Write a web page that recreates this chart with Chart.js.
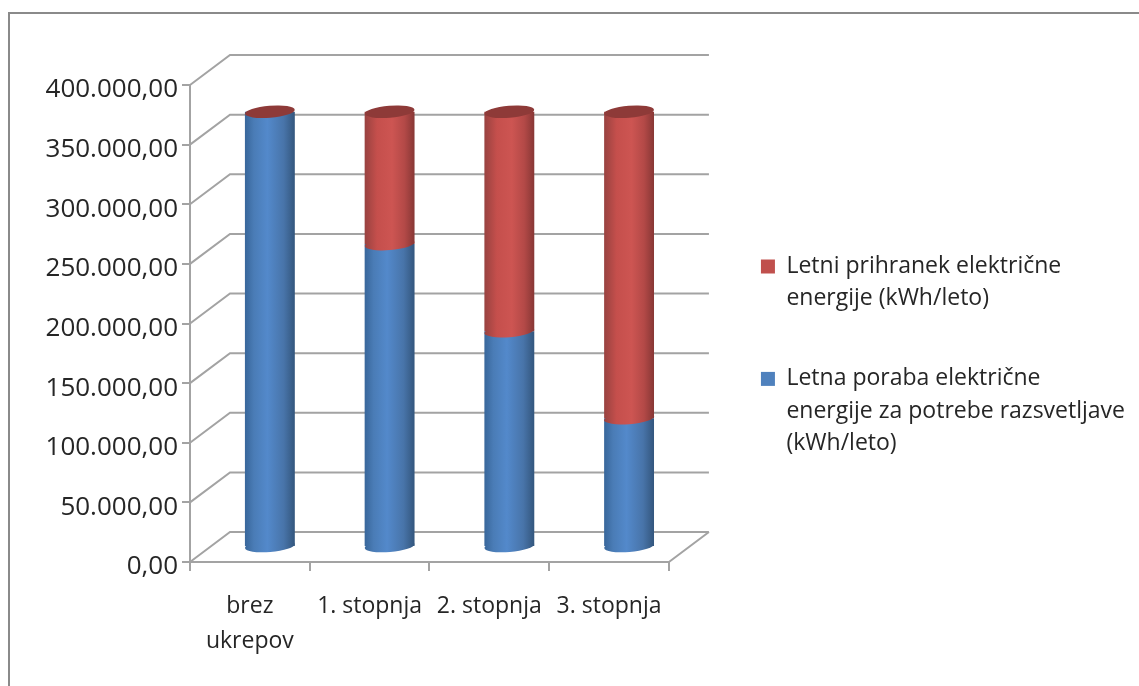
<!DOCTYPE html>
<html>
<head>
<meta charset="utf-8">
<title>Letna poraba</title>
<script src="https://cdn.jsdelivr.net/npm/chart.js@4"></script>
<style>
  body { margin: 0; background: #fff; }
  canvas { display: block; }
</style>
</head>
<body>
<canvas id="myChart" width="1139" height="686"></canvas>
<script>
// data
const categories = [['brez', 'ukrepov'], '1. stopnja', '2. stopnja', '3. stopnja'];
const porabaValues = [365000, 254000, 181000, 108000];
const prihranekValues = [0, 111000, 184000, 257000];
const yTickLabels = ['0,00', '50.000,00', '100.000,00', '150.000,00', '200.000,00',
  '250.000,00', '300.000,00', '350.000,00', '400.000,00'];
const porabaLabel = ['Letna poraba električne', 'energije za potrebe razsvetljave', '(kWh/leto)'];
const prihranekLabel = ['Letni prihranek električne', 'energije (kWh/leto)'];

const FONT = '"Open Sans"';
const TEXT = '#262626';
const GRID = '#a3a3a3';
const BLUE = '#4f81bd', RED = '#c0504d';
// the fake 3D: back wall offset, bars stand half way into the depth
const depthX = 40, depthY = 30;
const ellipseY = 6, tilt = -0.08;

const blueStops = [[0, '#38669a'], [0.18, '#4a7cb6'], [0.45, '#5389cb'], [0.78, '#4874a9'], [1, '#33567d']];
const redStops = [[0, '#984240'], [0.25, '#c54f4c'], [0.55, '#cd5552'], [0.8, '#b34947'], [1, '#873735']];

function barGradient(ctx, x, width, stops) {
  const g = ctx.createLinearGradient(x - width / 2, 0, x + width / 2, 0);
  stops.forEach(s => g.addColorStop(s[0], s[1]));
  return g;
}

function barFill(stops) {
  return function (c) {
    const x = c.chart.scales.x.getPixelForTick(c.dataIndex);
    return barGradient(c.chart.ctx, x, 50, stops);
  };
}

function ellipse(ctx, x, y, rx, fill) {
  ctx.beginPath();
  ctx.ellipse(x, y, rx, ellipseY, tilt, 0, Math.PI * 2);
  ctx.fillStyle = fill;
  ctx.fill();
}

const wall3d = {
  id: 'wall3d',
  beforeDraw(chart) {
    // frame round the chart, cut off at the right and the bottom
    const ctx = chart.ctx;
    ctx.save();
    ctx.strokeStyle = '#8a8a8a';
    ctx.lineWidth = 2;
    ctx.beginPath();
    ctx.moveTo(9, 686);
    ctx.lineTo(9, 13);
    ctx.lineTo(1139, 13);
    ctx.stroke();
    ctx.restore();
  },
  beforeDatasetsDraw(chart) {
    const ctx = chart.ctx, x = chart.scales.x, y = chart.scales.y;
    ctx.save();
    ctx.strokeStyle = GRID;
    ctx.lineWidth = 2;
    y.ticks.forEach((t, i) => {
      const py = y.getPixelForTick(i);
      ctx.beginPath();
      ctx.moveTo(x.left, py);
      ctx.lineTo(x.left + depthX, py - depthY);
      ctx.lineTo(x.right + depthX, py - depthY);
      if (i === 0) {
        ctx.moveTo(x.right, py);
        ctx.lineTo(x.right + depthX, py - depthY);
      }
      ctx.stroke();
    });
    ctx.restore();
    // bars are shifted into the depth
    ctx.save();
    ctx.translate(depthX / 2, -depthY / 2);
  },
  afterDatasetsDraw(chart) {
    const ctx = chart.ctx;
    const blue = chart.getDatasetMeta(0).data;
    const red = chart.getDatasetMeta(1).data;
    blue.forEach((bar, i) => {
      ellipse(ctx, bar.x, bar.base, bar.width / 2, barGradient(ctx, bar.x, bar.width, blueStops));
      if (prihranekValues[i] > 0) {
        ellipse(ctx, bar.x, bar.y, bar.width / 2, barGradient(ctx, bar.x, bar.width, redStops));
      }
      ellipse(ctx, bar.x, red[i].y, bar.width / 2, '#8e3a38');
    });
    ctx.restore();
  }
};

const myChart = new Chart(document.getElementById('myChart'), {
  type: 'bar',
  data: {
    labels: categories,
    datasets: [
      {
        label: porabaLabel,
        data: porabaValues,
        backgroundColor: barFill(blueStops),
        borderWidth: 0
      },
      {
        label: prihranekLabel,
        data: prihranekValues,
        backgroundColor: barFill(redStops),
        borderWidth: 0
      }
    ]
  },
  plugins: [wall3d],
  options: {
    responsive: false,
    animation: false,
    barPercentage: 0.4167,
    categoryPercentage: 1,
    layout: { padding: { top: 33, right: 4, bottom: 0 } },
    scales: {
      x: {
        stacked: true,
        afterFit(s) { s.height = 124; },
        grid: { drawOnChartArea: false, color: GRID, lineWidth: 2, tickLength: 9, offset: true },
        border: { color: GRID, width: 2 },
        ticks: {
          color: TEXT,
          padding: 18,
          maxRotation: 0,
          autoSkip: false,
          font: { family: FONT, size: 23, lineHeight: 1.52 }
        }
      },
      y: {
        stacked: true,
        min: 0,
        max: 400000,
        afterFit(s) { s.width = 190; },
        grid: { drawOnChartArea: false, color: GRID, lineWidth: 2, tickLength: 8 },
        border: { color: GRID, width: 2 },
        ticks: {
          stepSize: 50000,
          color: TEXT,
          padding: 4,
          labelOffset: 5,
          font: { family: FONT, size: 26 },
          callback: (v, i) => yTickLabels[i]
        }
      },
      // empty space between the plot and the legend
      gap: {
        type: 'linear',
        position: 'right',
        display: true,
        afterFit(s) { s.width = 44; },
        grid: { display: false },
        border: { display: false },
        ticks: { display: false }
      },
      // empty space above the plot, the legend centres on the full height
      gapTop: {
        type: 'linear',
        position: 'top',
        display: true,
        afterFit(s) { s.height = 52; },
        grid: { display: false },
        border: { display: false },
        ticks: { display: false }
      }
    },
    plugins: {
      tooltip: { enabled: false },
      legend: {
        position: 'right',
        reverse: true,
        maxWidth: 427,
        labels: {
          boxWidth: 14,
          boxHeight: 14,
          padding: 48,
          color: TEXT,
          font: { family: FONT, size: 23, lineHeight: 1.4 },
          generateLabels(chart) {
            const items = Chart.defaults.plugins.legend.labels.generateLabels(chart);
            items.forEach(item => {
              item.fillStyle = item.datasetIndex === 0 ? BLUE : RED;
            });
            return items;
          }
        }
      }
    }
  }
});
</script>
</body>
</html>
